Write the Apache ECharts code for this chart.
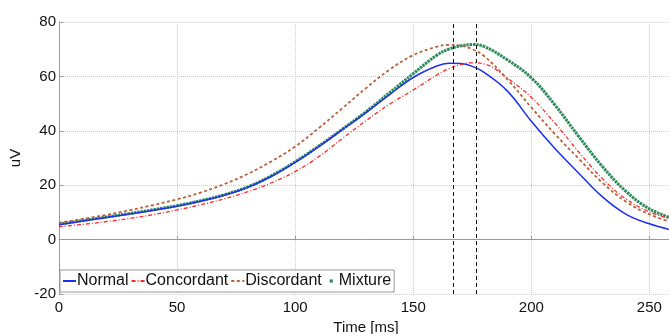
<!DOCTYPE html>
<html>
<head>
<meta charset="utf-8">
<script src="https://cdn.jsdelivr.net/npm/echarts@6/dist/echarts.min.js"></script>
<style>html,body{margin:0;padding:0;background:#fff}#c{width:669px;height:334px}</style>
</head>
<body>
<div id="c"></div>
<script>
var times = [0,10,20,30,40,50,60,70,80,90,100,110,120,130,140,150,160,165,170,175,180,190,200,210,220,230,240,250,260];
var normal = [5.5,6.8,8.1,9.4,10.8,12.3,14.1,16.3,19.2,23.3,28.4,34.2,40.4,46.7,53.3,59.6,63.8,64.8,64.7,63.7,61.5,54.5,43.5,33.5,24.5,15.8,9.4,5.8,3.4];
var concordant = [4.7,5.6,6.6,7.8,9.2,10.9,12.8,15.0,17.6,20.9,25.0,30.5,37.2,43.7,49.8,55.0,60.5,62.8,64.3,65.0,64.6,59.3,52.3,42.8,32.3,22.5,15.0,10.2,7.3];
var discordant = [6.2,7.6,9.1,10.8,12.7,14.8,17.3,20.4,24.2,28.8,34.2,41.0,48.3,55.7,62.5,67.8,70.9,71.6,71.3,70.0,67.5,58.8,48.6,38.8,29.8,21.0,14.0,9.3,6.3];
var mixture = [5.7,7.0,8.3,9.6,11.0,12.5,14.3,16.5,19.4,23.5,28.6,34.4,40.6,47.0,54.0,61.0,67.8,70.0,71.2,71.7,71.0,66.0,59.5,49.5,38.0,27.0,17.8,11.3,7.7];
var markerTimes = [167, 176.5];
var xTicks = {min: 0, max: 260, interval: 50};
var yTicks = {min: -20, max: 80, interval: 20};

function pairs(arr){ return times.map(function(t,i){ return [t, arr[i]]; }); }

var chart = echarts.init(document.getElementById('c'));
var fontFam = 'Liberation Sans, Arial, sans-serif';
chart.setOption({
  animation: false,
  grid: {left: 59, right: -4, top: 22, bottom: 40, outerBoundsMode: 'none', containLabel: false},
  xAxis: {
    type: 'value', min: xTicks.min, max: xTicks.max, interval: xTicks.interval,
    name: 'Time [ms]', nameLocation: 'middle', nameGap: 25,
    nameTextStyle: {color: '#111', fontSize: 15, fontFamily: fontFam},
    axisLine: {show: true, lineStyle: {color: '#999'}},
    axisTick: {show: true, inside: true, length: 4, lineStyle: {color: '#999'}},
    axisLabel: {color: '#111', fontSize: 15, fontFamily: fontFam, margin: 6, showMaxLabel: false},
    splitLine: {show: true, lineStyle: {color: '#ccc', type: 'dotted'}}
  },
  yAxis: {
    type: 'value', min: yTicks.min, max: yTicks.max, interval: yTicks.interval,
    name: 'uV', nameLocation: 'middle', nameGap: 31, nameRotate: 90,
    nameTextStyle: {color: '#111', fontSize: 15, fontFamily: fontFam},
    axisLine: {show: true, lineStyle: {color: '#999'}},
    axisTick: {show: true, inside: true, length: 4, lineStyle: {color: '#999'}},
    axisLabel: {color: '#111', fontSize: 15, fontFamily: fontFam, margin: 3},
    splitLine: {show: true, lineStyle: {color: '#ccc', type: 'dotted'}}
  },
  legend: {
    left: 60, top: 270, orient: 'horizontal',
    itemWidth: 13, itemHeight: 4, itemGap: 2, padding: [3, 3, 3, 2],
    borderColor: '#999', borderWidth: 1, backgroundColor: '#fff',
    textStyle: {color: '#111', fontSize: 16, fontFamily: fontFam, padding: [0,0,0,-4]},
    itemStyle: {opacity: 0},
    data: [
      {name: 'Normal'},
      {name: 'Concordant'},
      {name: 'Discordant'},
      {name: 'Mixture', itemStyle: {opacity: 1}, lineStyle: {opacity: 0}}
    ]
  },
  series: [
    {name: 'Normal', type: 'line', data: pairs(normal), smooth: 0.4, symbol: 'none',
     itemStyle: {color: '#1f2ff0'}, lineStyle: {color: '#1f2ff0', width: 1.5}, z: 3},
    {name: 'Concordant', type: 'line', data: pairs(concordant), smooth: 0.4, symbol: 'none',
     itemStyle: {color: '#ff2a2a'}, lineStyle: {color: '#ff2a2a', width: 1.3, type: [4, 2, 1, 2]}, z: 4},
    {name: 'Discordant', type: 'line', data: pairs(discordant), smooth: 0.4, symbol: 'none',
     itemStyle: {color: '#b8603a'}, lineStyle: {color: '#b8603a', width: 1.8, type: [3, 2.5]}, z: 5},
    {name: 'Mixture', type: 'line', data: pairs(mixture), smooth: 0.4, symbol: 'rect', showSymbol: false,
     itemStyle: {color: '#2e8a5c'}, lineStyle: {color: '#2e8a5c', width: 3, type: [2.5, 0.8]}, z: 2,
     markLine: {
       silent: true, symbol: 'none', label: {show: false},
       lineStyle: {color: '#111', type: [4, 3], width: 1},
       data: markerTimes.map(function(t){ return {xAxis: t}; })
     }}
  ]
});
</script>
</body>
</html>
